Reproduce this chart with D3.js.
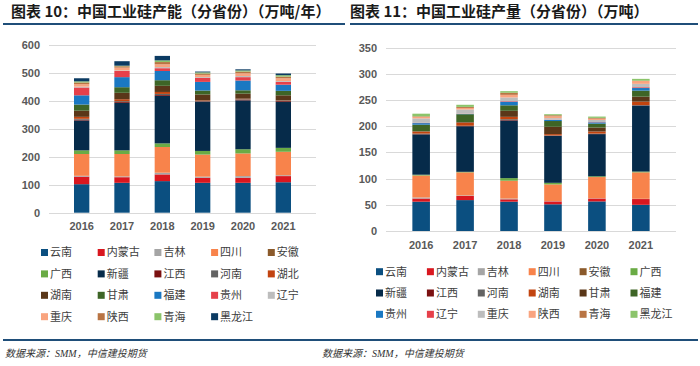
<!DOCTYPE html>
<html><head><meta charset="utf-8">
<script src="https://cdn.jsdelivr.net/npm/d3@7"></script>
<style>
html,body{margin:0;padding:0;background:#fff;}
svg{display:block;}
</style></head>
<body><svg id="c" width="700" height="366"></svg>
<script>
const years = ["2016","2017","2018","2019","2020","2021"];

const capProvinces = ["云南","内蒙古","吉林","四川","安徽","广西","新疆","江西","河南","湖北","湖南","甘肃","福建","贵州","辽宁","重庆","陕西","青海","黑龙江"];
const cap2016 = [102,27,3,78,0,13,107,3,3,7,22,22,33,28,3,9,6,4,11];
const cap2017 = [107,20,3,80,0,13,170,3,3,7,23,20,36,22,2,10,5,2,16];
const cap2018 = [113,24,6,92,0,13,170,3,4,7,22,20,33,10,4,10,8,6,16];
const cap2019 = [107,18,4,79,0,13,175,2,2,2,21,14,31,14,3,8,5,4,3];
const cap2020 = [107,18,6,81,0,15,175,2,2,2,18,12,35,12,4,10,6,4,4];
const cap2021 = [109,22,3,84,0,14,164,3,2,1,18,16,22,10,3,10,6,5,6];
const capTicks = [0,100,200,300,400,500,600];

const prodProvinces = ["云南","内蒙古","吉林","四川","安徽","广西","新疆","江西","河南","湖南","甘肃","福建","贵州","辽宁","重庆","陕西","青海","黑龙江"];
const prod2016 = [56,6,2,42,0,1.5,77,0.5,1,4,0.5,12.5,3,0.5,8.5,3,1,5];
const prod2017 = [59,8,1,44,0,1,87,0.5,0.5,6,1,15,0.5,0.5,8,3,2,4];
const prod2018 = [56,4.5,1.5,34,0,5,110,1,1.5,4.5,11.5,10.5,7,1,7,5,4,3];
const prod2019 = [51,5.5,0.5,32,0,3,89.5,0.5,0.5,2.5,14,11,2,0.5,3,3.5,2,2];
const prod2020 = [56.5,5.5,0.5,40.5,0,1.5,80.5,0.5,0.5,4,7.5,7.5,2.5,0.5,4,2.5,1.5,2.5];
const prod2021 = [50,11,0.5,50.5,0,1.5,126,0.5,0.5,6.5,9.5,11.5,5,1.5,6.5,5.5,0.5,3.5];
const prodTicks = [0,50,100,150,200,250,300,350];

const palette = ["#0B4F80","#D9171F","#A5A5A5","#F8834B","#8B5A2B","#6AAB45","#062B4A","#7B1111","#636363","#C2440F","#5A3719","#3E6526","#1A78C2","#E6404A","#BDBDBD","#F9A47F","#B97443","#8BC46A","#0B3A62"];

const svg = d3.select("#c");
const CJK = "'Noto Sans CJK SC','Noto Sans',sans-serif";

function chart(opt){
  const {provinces, rows, ticks, x0, x1, yTop, yBot, pad, xLabY, legX, legY, legDX, legDY, legCols} = opt;
  const table = years.map((y,i)=>{const o={year:y}; provinces.forEach((p,j)=>o[p]=rows[i][j]); return o;});
  const series = d3.stack().keys(provinces)(table);
  const x = d3.scaleBand().domain(years).range([x0,x1]).padding(pad);
  const y = d3.scaleLinear().domain([0, ticks[ticks.length-1]]).range([yBot,yTop]);
  const color = d3.scaleOrdinal().domain(provinces).range(palette);
  const g = svg.append("g");
  g.append("g").selectAll("line").data(ticks).join("line")
    .attr("x1",x0).attr("x2",x1).attr("y1",d=>Math.round(y(d))+0.5).attr("y2",d=>Math.round(y(d))+0.5)
    .attr("stroke","#D9D9D9").attr("stroke-width",1);
  const ya = g.append("g").attr("transform",`translate(${x0},0)`)
    .call(d3.axisLeft(y).tickValues(ticks).tickSize(0).tickPadding(9));
  ya.select(".domain").remove();
  ya.selectAll("text").attr("fill","#595959").style("font","bold 11px 'Liberation Sans',Arial,sans-serif");
  g.append("g").selectAll("g").data(series).join("g").attr("fill",d=>color(d.key))
    .selectAll("rect").data(d=>d).join("rect")
    .attr("x",d=>x(d.data.year)).attr("width",x.bandwidth())
    .attr("y",d=>y(d[1])).attr("height",d=>Math.max(0,y(d[0])-y(d[1])));
  const xa = g.append("g").attr("transform",`translate(0,${xLabY})`)
    .call(d3.axisBottom(x).tickSize(0).tickPadding(0));
  xa.select(".domain").remove();
  xa.selectAll("text").attr("fill","#595959").style("font","bold 11px 'Liberation Sans',Arial,sans-serif");
  const lg = g.append("g").selectAll("g").data(provinces).join("g")
    .attr("transform",(d,i)=>`translate(${legX + (i%legCols)*legDX},${legY + Math.floor(i/legCols)*legDY})`);
  lg.append("rect").attr("x",0).attr("y",-3.5).attr("width",7).attr("height",7).attr("fill",d=>color(d));
  lg.append("text").attr("x",9).attr("y",0).attr("dy","0.36em").text(d=>d)
    .attr("fill","#404040").style("font",`11px ${CJK}`);
}

chart({provinces:capProvinces, rows:[cap2016,cap2017,cap2018,cap2019,cap2020,cap2021], ticks:capTicks,
  x0:49, x1:316, yTop:45, yBot:212.7, pad:0.62, xLabY:222,
  legX:41, legY:252.5, legDX:56.7, legDY:21.4, legCols:5});

chart({provinces:prodProvinces, rows:[prod2016,prod2017,prod2018,prod2019,prod2020,prod2021], ticks:prodTicks,
  x0:386, x1:676, yTop:47.7, yBot:231, pad:0.6, xLabY:241,
  legX:376, legY:271.7, legDX:50.9, legDY:21.3, legCols:6});

svg.append("text").attr("x",11).attr("y",17).text("图表 10：中国工业硅产能（分省份）（万吨/年）")
  .attr("fill","#1a1a1a").style("font",`bold 15px ${CJK}`);
svg.append("text").attr("x",350).attr("y",17).text("图表 11：中国工业硅产量（分省份）（万吨）")
  .attr("fill","#1a1a1a").style("font",`bold 15px ${CJK}`);
svg.append("line").attr("x1",3).attr("x2",345).attr("y1",24).attr("y2",24).attr("stroke","#1F4E79").attr("stroke-width",2);
svg.append("line").attr("x1",350).attr("x2",698).attr("y1",24).attr("y2",24).attr("stroke","#1F4E79").attr("stroke-width",2);
svg.append("line").attr("x1",3).attr("x2",698).attr("y1",340).attr("y2",340).attr("stroke","#1F4E79").attr("stroke-width",2);
svg.append("text").attr("x",5).attr("y",357).text("数据来源：SMM，中信建投期货")
  .attr("fill","#333").style("font",`italic 10px 'Liberation Serif',${CJK}`);
svg.append("text").attr("x",322).attr("y",357).text("数据来源：SMM，中信建投期货")
  .attr("fill","#333").style("font",`italic 10px 'Liberation Serif',${CJK}`);
</script></body></html>
